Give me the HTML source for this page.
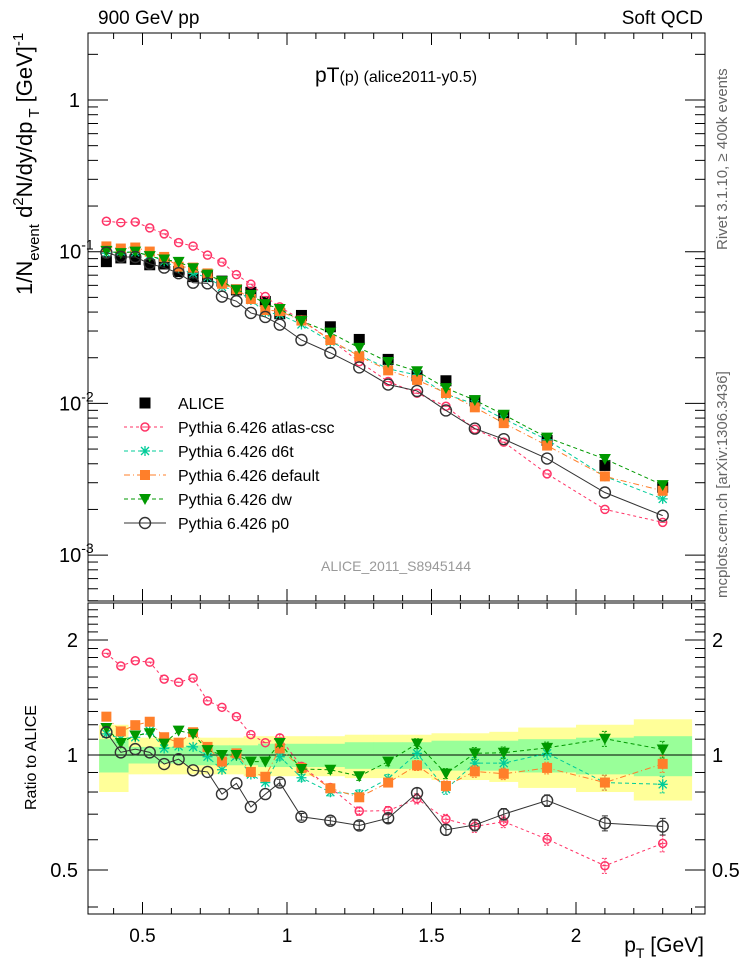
<!DOCTYPE html>
<html><head><meta charset="utf-8"><style>
html,body{margin:0;padding:0;background:#fff;}
svg{display:block;font-family:"Liberation Sans",sans-serif;}
body{position:relative;width:746px;height:972px;overflow:hidden}
</style></head><body>
<svg id="chart" width="746" height="972" viewBox="0 0 746 972" xmlns="http://www.w3.org/2000/svg"></svg>
<script>
const xVals=[0.375,0.425,0.475,0.525,0.575,0.625,0.675,0.725,0.775,0.825,0.875,0.925,0.975,1.05,1.15,1.25,1.35,1.45,1.55,1.65,1.75,1.9,2.1,2.3];
const binLo=[0.35,0.4,0.45,0.5,0.55,0.6,0.65,0.7,0.75,0.8,0.85,0.9,0.95,1.0,1.1,1.2,1.3,1.4,1.5,1.6,1.7,1.8,2.0,2.2];
const binHi=[0.4,0.45,0.5,0.55,0.6,0.65,0.7,0.75,0.8,0.85,0.9,0.95,1.0,1.1,1.2,1.3,1.4,1.5,1.6,1.7,1.8,2.0,2.2,2.4];
const aliceVals=[0.086,0.091,0.089,0.082,0.083,0.074,0.0685,0.0685,0.064,0.056,0.054,0.047,0.039,0.038,0.032,0.0264,0.0195,0.0152,0.0141,0.0104,0.0083,0.0057,0.0039,0.0028];
const bandTotal=[0.2,0.2,0.11,0.11,0.11,0.11,0.11,0.11,0.11,0.11,0.12,0.12,0.12,0.12,0.12,0.13,0.13,0.13,0.14,0.14,0.15,0.18,0.2,0.24];
const bandStat=[0.1,0.1,0.05,0.05,0.05,0.05,0.06,0.06,0.06,0.06,0.06,0.07,0.07,0.07,0.07,0.08,0.08,0.08,0.09,0.09,0.09,0.1,0.11,0.12];
const ratioAtlas=[1.846,1.71,1.765,1.75,1.58,1.55,1.59,1.386,1.333,1.26,1.131,1.077,1.109,0.934,0.822,0.713,0.715,0.768,0.679,0.65,0.669,0.602,0.513,0.587];
const ratioD6t=[1.136,1.103,1.113,1.158,1.04,1.054,1.05,0.99,0.915,0.994,0.889,0.847,0.99,0.872,0.799,0.79,0.867,1.01,0.814,0.952,0.952,1.01,0.847,0.838];
const ratioDefault=[1.26,1.153,1.197,1.222,1.113,1.077,1.147,1.05,0.961,1.01,0.903,0.877,1.04,0.925,0.818,0.775,0.847,0.939,0.83,0.906,0.893,0.925,0.847,0.948];
const ratioDw=[1.177,1.075,1.125,1.14,1.071,1.158,1.136,1.03,1.0,1.0,0.961,0.961,1.075,0.919,0.915,0.88,0.961,1.071,0.894,1.01,1.014,1.044,1.103,1.034];
const ratioP0=[1.147,1.016,1.036,1.016,0.947,0.975,0.912,0.903,0.79,0.843,0.731,0.79,0.847,0.689,0.673,0.654,0.683,0.795,0.637,0.656,0.70,0.76,0.663,0.65];
const modelErr=[0.01,0.01,0.01,0.01,0.01,0.01,0.012,0.012,0.015,0.015,0.018,0.018,0.02,0.02,0.022,0.025,0.025,0.03,0.03,0.035,0.035,0.035,0.045,0.05];
const xTicks=[0.5,1,1.5,2];
const xTickLabels=["0.5","1","1.5","2"];
const mainDecades=[-3,-2,-1,0];
const mainTickLabels=["10","10","10","1"];
const ratioTicks=[0.5,1,2];
const ratioTickLabels=["0.5","1","2"];

const NS="http://www.w3.org/2000/svg";
const svg=document.getElementById('chart');
const L=88,R=705,MT=33,MB=601,RT=603,RB=914;
function X(v){return 142.5+(v-0.5)*289;}
function YM(v){return 100-151.7*Math.log10(v);}
function YR(v){return 755-382*Math.log10(v);}
function mk(tag,attrs,parent){const e=document.createElementNS(NS,tag);for(const k in attrs)e.setAttribute(k,attrs[k]);(parent||svg).appendChild(e);return e;}
function txt(s,attrs,parent){const e=mk('text',attrs,parent);e.textContent=s;return e;}

const gBand=mk('g',{});


for(let i=0;i<xVals.length;i++){
  const y1=mk('rect',{x:X(binLo[i]),y:YR(1+bandTotal[i]),width:X(binHi[i])-X(binLo[i])+0.5,height:YR(1-bandTotal[i])-YR(1+bandTotal[i]),fill:'#ffff99'},gBand);
  
  
}
for(let i=0;i<xVals.length;i++){
  const g1=mk('rect',{x:X(binLo[i]),y:YR(1+bandStat[i]),width:X(binHi[i])-X(binLo[i])+0.5,height:YR(1-bandStat[i])-YR(1+bandStat[i]),fill:'#99ff99'},gBand);
  
  
}
const one=mk('line',{x1:L,x2:R,y1:YR(1),y2:YR(1),stroke:'#000','stroke-width':1});



const f1=mk('rect',{x:L,y:MT,width:R-L,height:MB-MT,fill:'none',stroke:'#000','stroke-width':1});


const f2=mk('rect',{x:L,y:RT,width:R-L,height:RB-RT,fill:'none',stroke:'#000','stroke-width':1});



const gx=mk('g',{stroke:'#000','stroke-width':1});


for(let k=4;k<=24;k++){
  const v=k/10; const xx=X(v); if(xx<L||xx>R)continue;
  const major=Math.abs(v*2-Math.round(v*2))<1e-6;
  const len=major?12:6;
  mk('line',{x1:xx,x2:xx,y1:MT,y2:MT+len},gx);
  mk('line',{x1:xx,x2:xx,y1:MB,y2:MB-len},gx);
  mk('line',{x1:xx,x2:xx,y1:RT,y2:RT+len},gx);
  mk('line',{x1:xx,x2:xx,y1:RB,y2:RB-len},gx);
}
xTicks.forEach((v,i)=>{
  const t=txt(xTickLabels[i],{x:X(v),y:942,'font-size':19,'text-anchor':'middle'});
  
  
});
const xt=txt('',{x:704,y:952,'font-size':21,'text-anchor':'end'});
xt.innerHTML='p<tspan font-size="14" dy="6">T</tspan><tspan dy="-6"> [GeV]</tspan>';



const gy=mk('g',{stroke:'#000','stroke-width':1});


for(let d=-4;d<=0;d++){for(let m=1;m<=9;m++){
  const v=m*Math.pow(10,d); const yy=YM(v); if(yy<MT||yy>MB)continue;
  const len=m===1?20:10;
  mk('line',{x1:L,x2:L+len,y1:yy,y2:yy},gy);
  mk('line',{x1:R,x2:R-len,y1:yy,y2:yy},gy);
}}
mainDecades.forEach((d,i)=>{
  const t=txt('',{x:80,y:YM(Math.pow(10,d))+7,'font-size':20,'text-anchor':'end'});
  if(d===0){t.textContent='1';}
  else{t.setAttribute('x',59);t.setAttribute('text-anchor','start');t.innerHTML=mainTickLabels[i]+'<tspan font-size="14" dy="-9">'+d+'</tspan>';}
  
  
});

const gr=mk('g',{stroke:'#000','stroke-width':1});


for(let k=4;k<=25;k++){
  const v=k/10; const yy=YR(v); if(yy<RT||yy>RB)continue;
  const major=(k===5||k===10||k===20);
  const len=major?20:10;
  mk('line',{x1:L,x2:L+len,y1:yy,y2:yy},gr);
  mk('line',{x1:R,x2:R-len,y1:yy,y2:yy},gr);
}
ratioTicks.forEach((v,i)=>{
  const t=txt(ratioTickLabels[i],{x:78,y:YR(v)+7,'font-size':20,'text-anchor':'end'});
  
  
  const t2=txt(ratioTickLabels[i],{x:712,y:YR(v)+7,'font-size':20,'text-anchor':'start'});
  
  
});

function marker(type,x,y,color,parent){
  let e;
  if(type==='square'){e=mk('rect',{x:x-5.5,y:y-5.5,width:11,height:11,fill:color},parent);}
  else if(type==='osquare'){e=mk('rect',{x:x-5,y:y-5,width:10,height:10,fill:color},parent);}
  else if(type==='tri'){e=mk('path',{d:`M${x-6},${y-5}L${x+6},${y-5}L${x},${y+6}Z`,fill:color},parent);}
  else if(type==='star'){e=mk('path',{d:`M${x-5},${y}H${x+5}M${x},${y-5}V${y+5}M${x-4},${y-4}L${x+4},${y+4}M${x-4},${y+4}L${x+4},${y-4}`,stroke:color,'stroke-width':1.3,fill:'none'},parent);}
  else if(type==='smallcirc'){e=mk('circle',{cx:x,cy:y,r:4,fill:'none',stroke:color,'stroke-width':1.5},parent);mk('line',{x1:x-3,x2:x+3,y1:y,y2:y,stroke:color},parent);}
  else if(type==='bigcirc'){e=mk('circle',{cx:x,cy:y,r:5.5,fill:'none',stroke:color,'stroke-width':1.4},parent);}
  return e;
}
const models=[
  {name:'atlas-csc',ratio:ratioAtlas,color:'#ff3366',dash:'3,3',type:'smallcirc',lab:'Pythia 6.426 atlas-csc'},
  {name:'d6t',ratio:ratioD6t,color:'#00cc99',dash:'4,3',type:'star',lab:'Pythia 6.426 d6t'},
  {name:'default',ratio:ratioDefault,color:'#ff7f2a',dash:'6,3,1,3',type:'osquare',lab:'Pythia 6.426 default'},
  {name:'dw',ratio:ratioDw,color:'#009900',dash:'4,3',type:'tri',lab:'Pythia 6.426 dw'},
  {name:'p0',ratio:ratioP0,color:'#333333',dash:'',type:'bigcirc',lab:'Pythia 6.426 p0'}
];

const ga=mk('g',{});


aliceVals.forEach((v,i)=>{
  const m=marker('square',X(xVals[i]),YM(v),'#000',ga);
  
  
});

models.forEach(md=>{
  const gm=mk('g',{});
  
  
  const ptsM=xVals.map((x,i)=>X(x)+','+YM(aliceVals[i]*md.ratio[i])).join(' ');
  const pl=mk('polyline',{points:ptsM,fill:'none',stroke:md.color,'stroke-width':1,'stroke-dasharray':md.dash},gm);
  
  
  xVals.forEach((x,i)=>{
    const m=marker(md.type,X(x),YM(aliceVals[i]*md.ratio[i]),md.color,gm);
    
    
  });
  const gq=mk('g',{});
  
  
  const ptsR=xVals.map((x,i)=>X(x)+','+YR(md.ratio[i])).join(' ');
  const pr=mk('polyline',{points:ptsR,fill:'none',stroke:md.color,'stroke-width':1,'stroke-dasharray':md.dash},gq);
  
  
  xVals.forEach((x,i)=>{
    const xx=X(x),r=md.ratio[i],e=modelErr[i]*r;
    const ya=YR(r+e),yb=YR(r-e);
    if(yb-ya>6){
      const eb=mk('path',{d:`M${xx},${ya}V${yb}M${xx-3},${ya}H${xx+3}M${xx-3},${yb}H${xx+3}`,stroke:md.color,fill:'none','stroke-width':1,'stroke-dasharray':md.dash?'2,1':''},gq);
      
      
    }
    const m=marker(md.type,xx,YR(r),md.color,gq);
    
    
  });
});

const lg=mk('g',{});


const le0=marker('square',145,403,'#000',lg);


const lt0=txt('ALICE',{x:178,y:409,'font-size':16},lg);


models.forEach((md,k)=>{
  const y=427+24*k;
  const ll=mk('line',{x1:124,x2:166,y1:y,y2:y,stroke:md.color,'stroke-dasharray':md.dash},lg);
  
  
  const lm=marker(md.type,145,y,md.color,lg);
  
  
  const lt=txt(md.lab,{x:178,y:y+6,'font-size':16},lg);
  
  
});
</script>
<svg style="position:absolute;left:0;top:0" width="746" height="972">
<text x="98" y="24" font-size="19" font-family="Liberation Sans, sans-serif">900 GeV pp</text>
<text x="703" y="24" font-size="19" text-anchor="end" font-family="Liberation Sans, sans-serif">Soft QCD</text>
<text x="396" y="82" font-size="21" text-anchor="middle" font-family="Liberation Sans, sans-serif">pT<tspan font-size="16">(p)</tspan><tspan font-size="16"> (alice2011-y0.5)</tspan></text>
<text x="396" y="571" font-size="14" fill="#999" text-anchor="middle" font-family="Liberation Sans, sans-serif">ALICE_2011_S8945144</text>
<text transform="translate(727,250) rotate(-90)" font-size="15" fill="#666" font-family="Liberation Sans, sans-serif">Rivet 3.1.10, ≥ 400k events</text>
<text transform="translate(727,598) rotate(-90)" font-size="15" fill="#666" font-family="Liberation Sans, sans-serif">mcplots.cern.ch [arXiv:1306.3436]</text>
<text transform="translate(32,295) rotate(-90)" font-size="22" font-family="Liberation Sans, sans-serif">1/N<tspan font-size="15" dy="7">event</tspan><tspan dy="-7"> d</tspan><tspan font-size="15" dy="-9">2</tspan><tspan dy="9">N/dy/dp</tspan><tspan font-size="15" dy="7"> T</tspan><tspan dy="-7">  [GeV]</tspan><tspan font-size="15" dy="-9">-1</tspan></text>
<text transform="translate(36,810) rotate(-90)" font-size="16" font-family="Liberation Sans, sans-serif">Ratio to ALICE</text>
</svg>
</body></html>
